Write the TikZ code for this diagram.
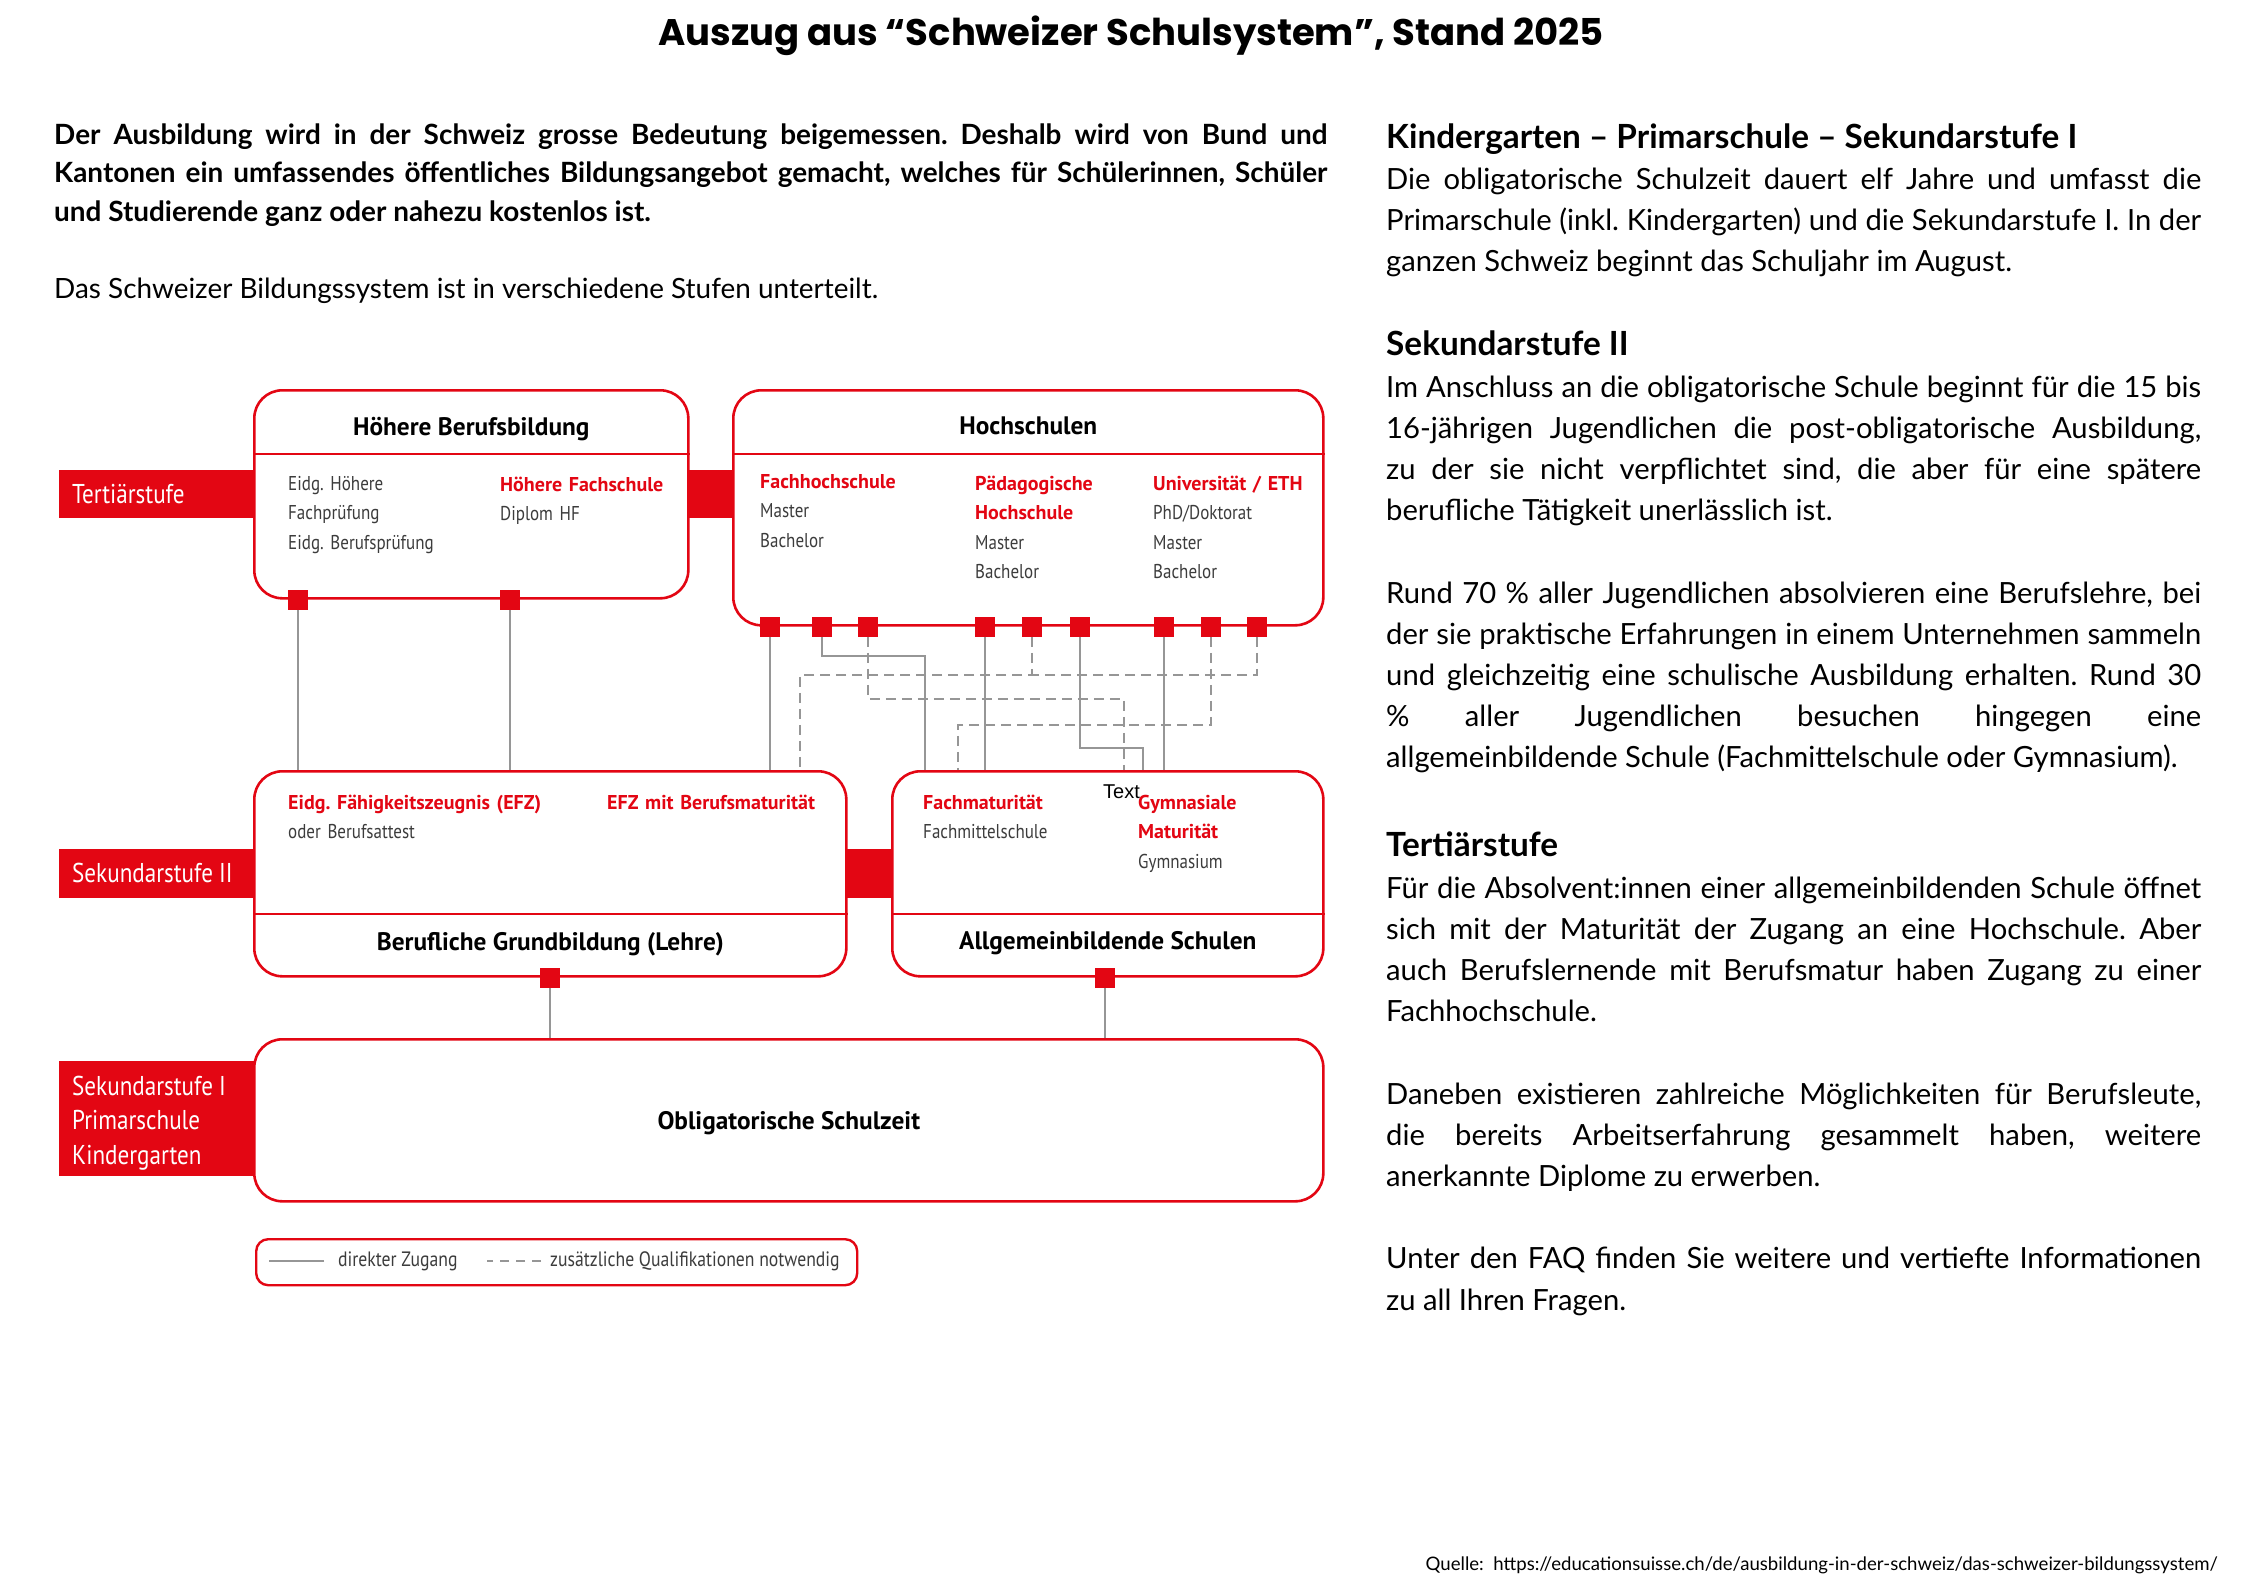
\documentclass[tikz,border=0pt]{standalone}
\usepackage{fontspec}
\setmainfont{Lato}
\newfontfamily\titlefont{Poppins}
\newfontfamily\diafont[FakeStretch=0.85]{PT Sans}
\newfontfamily\diabold{PT Sans}
\newfontfamily\notefont{Liberation Sans}
\usetikzlibrary{positioning,calc}
\definecolor{chred}{RGB}{227,6,19}
\definecolor{linkgray}{RGB}{150,150,150}
\definecolor{infogray}{RGB}{60,60,60}
\newcommand{\inst}[1]{\textcolor{chred}{\diabold\bfseries #1}}
\frenchspacing

\begin{document}
\begin{tikzpicture}[x=1pt,y=-1pt,every node/.style={inner sep=0pt},
  box/.style={draw=chred,line width=2.6pt,rounded corners=28pt,fill=white,anchor=north west},
  band/.style={fill=chred,anchor=north west},
  bandtext/.style={font=\diafont\fontsize{27.2}{34.5}\selectfont,text=white,anchor=west,align=left},
  divider/.style={draw=chred,line width=2.2pt},
  port/.style={fill=chred,minimum size=20pt},
  head/.style={font=\diabold\bfseries\fontsize{25.3}{30}\selectfont},
  info/.style={font=\diafont\fontsize{20}{29.5}\selectfont,text=infogray,text width=320pt,align=left,anchor=base west},
  legendtext/.style={font=\diafont\fontsize{20.8}{24}\selectfont,text=infogray,anchor=west},
  direct/.style={draw=linkgray,line width=2pt},
  extra/.style={direct,dash pattern=on 10pt off 6pt}]
\useasboundingbox[fill=white] (0,0) rectangle (2245,1587);

% title and text columns
\node[font=\titlefont\bfseries\fontsize{37}{44}\selectfont] (title) at (1131,36) {Auszug aus “Schweizer Schulsystem”, Stand 2025};
\node[anchor=base west,text width=1273pt,align=justify,font=\fontsize{27.9}{38.7}\selectfont] (intro) at (54,144) {\hyphenpenalty=10000\exhyphenpenalty=10000\tolerance=10000
\textbf{Der Ausbildung wird in der Schweiz grosse Bedeutung beigemessen. Deshalb wird von Bund und\linebreak Kantonen ein umfassendes öffentliches Bildungsangebot gemacht, welches für Schülerinnen, Schüler\linebreak und Studierende ganz oder nahezu kostenlos ist.}\par\vspace{38.7pt}
Das Schweizer Bildungssystem ist in verschiedene Stufen unterteilt.};
\node[anchor=base west,text width=815pt,align=justify,font=\fontsize{29.2}{41.2}\selectfont] (facts) at (1386,148) {\hyphenpenalty=10000\exhyphenpenalty=10000\tolerance=10000
{\bfseries\fontsize{33.3}{43}\selectfont Kindergarten – Primarschule – Sekundarstufe I\par}
Die obligatorische Schulzeit dauert elf Jahre und umfasst die\linebreak Primarschule (inkl. Kindergarten) und die Sekundarstufe I. In der\linebreak ganzen Schweiz beginnt das Schuljahr im August.\par\vspace{41.2pt}
{\bfseries\fontsize{33.3}{43}\selectfont Sekundarstufe II\par}
Im Anschluss an die obligatorische Schule beginnt für die 15 bis\linebreak 16-jährigen Jugendlichen die post-obligatorische Ausbildung,\linebreak zu der sie nicht verpflichtet sind, die aber für eine spätere\linebreak berufliche Tätigkeit unerlässlich ist.\par\vspace{41.2pt}
Rund 70 \% aller Jugendlichen absolvieren eine Berufslehre, bei\linebreak der sie praktische Erfahrungen in einem Unternehmen sammeln\linebreak und gleichzeitig eine schulische Ausbildung erhalten. Rund 30\linebreak \% aller Jugendlichen besuchen hingegen eine\linebreak allgemeinbildende Schule (Fachmittelschule oder Gymnasium).\par\vspace{46pt}
{\bfseries\fontsize{33.3}{43}\selectfont Tertiärstufe\par}
Für die Absolvent:innen einer allgemeinbildenden Schule öffnet\linebreak sich mit der Maturität der Zugang an eine Hochschule. Aber\linebreak auch Berufslernende mit Berufsmatur haben Zugang zu einer\linebreak Fachhochschule.\par\vspace{41.2pt}
Daneben existieren zahlreiche Möglichkeiten für Berufsleute,\linebreak die bereits Arbeitserfahrung gesammelt haben, weitere\linebreak anerkannte Diplome zu erwerben.\par\vspace{41.2pt}
Unter den FAQ finden Sie weitere und vertiefte Informationen\linebreak zu all Ihren Fragen.};
\node[anchor=east,font=\fontsize{18.6}{22}\selectfont] (source) at (2218,1565) {Quelle:\ \ https://educationsuisse.ch/de/ausbildung-in-der-schweiz/das-schweizer-bildungssystem/};

% stage bands
\node[band,minimum width=673pt,minimum height=48pt] (tband) at (59,470) {};
\node[band,minimum width=832pt,minimum height=49pt] (sband) at (59,849) {};
\node[band,minimum width=210pt,minimum height=115pt] (oband) at (59,1061) {};
\node[bandtext] (tlabel) at (72,494) {Tertiärstufe};
\node[bandtext] (slabel) at (72,873) {Sekundarstufe II};
\node[bandtext] (olabel) at (72,1123) {Sekundarstufe I\\Primarschule\\Kindergarten};

% boxes
\node[box,minimum width=434pt,minimum height=208pt] (hbb) at (253,389) {};
\node[box,minimum width=590pt,minimum height=235pt] (hs) at (732,389) {};
\node[box,minimum width=592pt,minimum height=205pt] (berufl) at (253,770) {};
\node[box,minimum width=431pt,minimum height=205pt] (allg) at (891,770) {};
\node[box,minimum width=1069pt,minimum height=162pt] (oblig) at (253,1038) {};
\draw[divider]([yshift=-65pt]hbb.north west)--([yshift=-65pt]hbb.north east);
\draw[divider]([yshift=-65pt]hs.north west)--([yshift=-65pt]hs.north east);
\draw[divider]([yshift=64pt]berufl.south west)--([yshift=64pt]berufl.south east);
\draw[divider]([yshift=64pt]allg.south west)--([yshift=64pt]allg.south east);

% box texts
\node[head] (hbbhead) at (hbb.north |- 0,429) {Höhere Berufsbildung};
\node[head] (hshead) at (hs.north |- 0,426) {Hochschulen};
\node[head] (bghead) at (berufl.south |- 0,944) {Berufliche Grundbildung (Lehre)};
\node[head] (aghead) at (allg.south |- 0,943) {Allgemeinbildende Schulen};
\node[head] (oblhead) at ([yshift=-3pt]oblig.center) {Obligatorische Schulzeit};
\node[info] (hbbexam) at (288,490) {Eidg. Höhere\\Fachprüfung\\Eidg. Berufsprüfung};
\node[info] (hbbhf) at (500,491) {\inst{Höhere Fachschule}\\Diplom HF};
\node[info] (hsfh) at (760,488) {\inst{Fachhochschule}\\Master\\Bachelor};
\node[info] (hsph) at (975,490) {\inst{Pädagogische}\\\inst{Hochschule}\\Master\\Bachelor};
\node[info] (hsuni) at (1153,490) {\inst{Universität / ETH}\\PhD/Doktorat\\Master\\Bachelor};
\node[info] (bgefz) at (288,809) {\inst{Eidg. Fähigkeitszeugnis (EFZ)}\\oder Berufsattest};
\node[info] (bgbm) at (607,809) {\inst{EFZ mit Berufsmaturität}};
\node[info] (agfm) at (923,809) {\inst{Fachmaturität}\\Fachmittelschule};
\node[info] (aggm) at (1138,809) {\inst{Gymnasiale}\\\inst{Maturität}\\Gymnasium};
\node[anchor=west,font=\notefont\fontsize{20}{24}\selectfont] (note) at (1103,792) {Text};

% ports
\node[port] (hp1) at (hbb.south -| 298,0) {};
\node[port] (hp2) at (hbb.south -| 510,0) {};
\node[port] (fh1) at (hs.south -| 770,0) {};
\node[port] (fh2) at (hs.south -| 822,0) {};
\node[port] (fh3) at (hs.south -| 868,0) {};
\node[port] (ph1) at (hs.south -| 985,0) {};
\node[port] (ph2) at (hs.south -| 1032,0) {};
\node[port] (ph3) at (hs.south -| 1080,0) {};
\node[port] (uni1) at (hs.south -| 1164,0) {};
\node[port] (uni2) at (hs.south -| 1211,0) {};
\node[port] (uni3) at (hs.south -| 1257,0) {};
\node[port] (bgp) at (berufl.south) {};
\node[port] (agp) at (allg.south -| 1105,0) {};

% connectors
\draw[direct](hp1.south)--(hp1.south |- berufl.north);
\draw[direct](hp2.south)--(hp2.south |- berufl.north);
\draw[direct](fh1.south)--(fh1.south |- berufl.north);
\draw[direct](fh2.south)|-(925,656)--(925,0 |- allg.north);
\draw[extra](fh3.south)|-(1124,699)--(1124,0 |- allg.north);
\draw[direct](ph1.south)--(ph1.south |- allg.north);
\draw[extra](ph2.south)|-(800,675)--(800,0 |- berufl.north);
\draw[direct](ph3.south)|-(1143,748)--(1143,0 |- allg.north);
\draw[direct](uni1.south)--(uni1.south |- allg.north);
\draw[extra](uni2.south)|-(958,725)--(958,0 |- allg.north);
\draw[extra](uni3.south)|-(ph2.south |- 0,675);
\draw[direct](bgp.south)--(bgp.south |- oblig.north);
\draw[direct](agp.south)--(agp.south |- oblig.north);

% legend
\node[draw=chred,line width=2.4pt,rounded corners=12pt,anchor=north west,minimum width=601pt,minimum height=46pt] (legend) at (255,1238) {};
\node[legendtext] (ldirect) at (338,1261) {direkter Zugang};
\node[legendtext] (lextra) at (550,1261) {zusätzliche Qualifikationen notwendig};
\draw[direct,line width=2.6pt]([xshift=-14pt]ldirect.west)--++(-55,0);
\draw[extra,line width=2.6pt,dash pattern=on 9pt off 7pt]([xshift=-9pt]lextra.west)--++(-54,0);
\end{tikzpicture}
\end{document}
